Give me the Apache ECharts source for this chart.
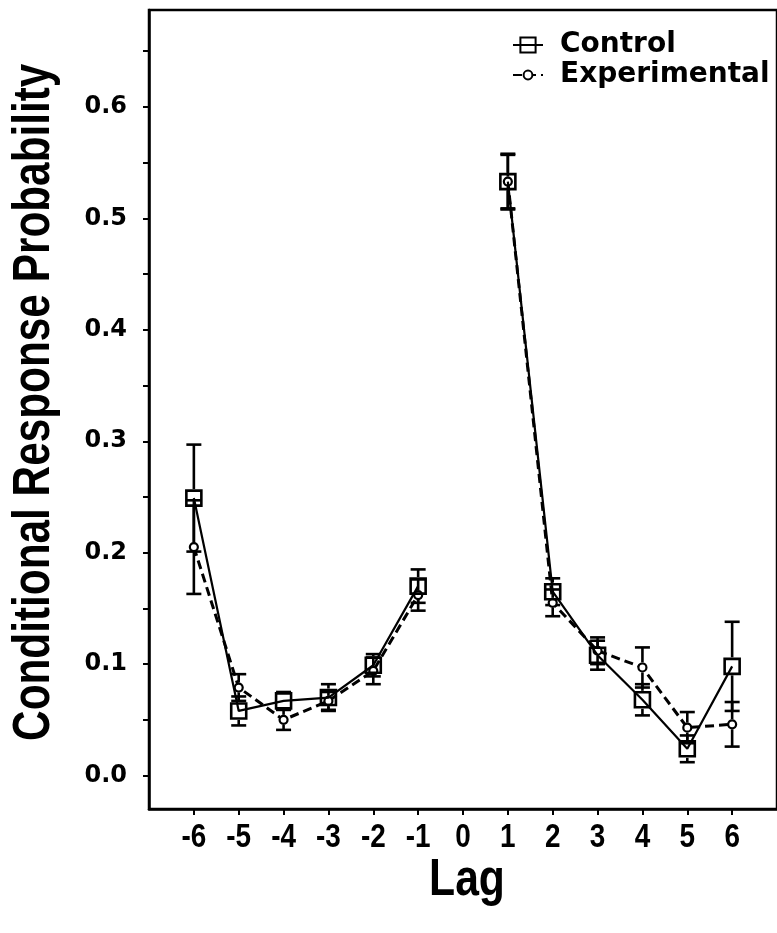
<!DOCTYPE html>
<html>
<head>
<meta charset="utf-8">
<script src="https://cdn.jsdelivr.net/npm/echarts@6/dist/echarts.min.js"></script>
<style>
html,body{margin:0;padding:0;background:#fff;}
#chart{width:777px;height:933px;}
</style>
</head>
<body>
<div id="chart"></div>
<script>
const lags = [-6, -5, -4, -3, -2, -1, 1, 2, 3, 4, 5, 6];
const xTickLabels = [-6, -5, -4, -3, -2, -1, 0, 1, 2, 3, 4, 5, 6];
const controlMean = [0.249, 0.058, 0.067, 0.070, 0.099, 0.170, 0.533, 0.165, 0.108, 0.068, 0.024, 0.098];
const controlErr  = [0.048, 0.013, 0.008, 0.012, 0.010, 0.015, 0.024, 0.012, 0.013, 0.014, 0.012, 0.040];
const expMean = [0.205, 0.079, 0.050, 0.067, 0.094, 0.162, 0.533, 0.155, 0.112, 0.097, 0.043, 0.046];
const expErr  = [0.042, 0.012, 0.009, 0.008, 0.012, 0.014, 0.025, 0.012, 0.012, 0.018, 0.014, 0.020];
const yTickLabels = [0, 0.1, 0.2, 0.3, 0.4, 0.5, 0.6];
const yTickMarks = [0, 0.05, 0.1, 0.15, 0.2, 0.25, 0.3, 0.35, 0.4, 0.45, 0.5, 0.55, 0.6, 0.65];
const xTitle = 'Lag';
const yTitle = 'Conditional Response Probability';

function lineData(means) {
  const out = [];
  lags.forEach((lag, i) => {
    if (i > 0 && lags[i - 1] < 0 && lag > 0) out.push([0, '-']);
    out.push([lag, means[i]]);
  });
  return out;
}
function errData(means, errs) {
  return lags.map((lag, i) => [lag, means[i] - errs[i], means[i] + errs[i], means[i]]);
}
function errRender(halfSize) {
  return function (params, api) {
    const x = api.value(0), lo = api.value(1), hi = api.value(2), v = api.value(3);
    const pHi = api.coord([x, hi]), pLo = api.coord([x, lo]), pV = api.coord([x, v]);
    const cap = 7.5;
    const style = { stroke: '#000', lineWidth: 2.6, fill: null };
    const ch = [];
    if (pV[1] - halfSize > pHi[1]) ch.push({ type: 'line', shape: { x1: pHi[0], y1: pHi[1], x2: pV[0], y2: pV[1] - halfSize }, style });
    if (pV[1] + halfSize < pLo[1]) ch.push({ type: 'line', shape: { x1: pLo[0], y1: pLo[1], x2: pV[0], y2: pV[1] + halfSize }, style });
    ch.push({ type: 'line', shape: { x1: pHi[0] - cap, y1: pHi[1], x2: pHi[0] + cap, y2: pHi[1] }, style });
    ch.push({ type: 'line', shape: { x1: pLo[0] - cap, y1: pLo[1], x2: pLo[0] + cap, y2: pLo[1] }, style });
    return { type: 'group', children: ch };
  };
}

const chart = echarts.init(document.getElementById('chart'), null, { renderer: 'canvas' });
const legendText = { fontFamily: 'DejaVu Sans', fontWeight: 'bold', fontSize: 28, color: '#000', padding: [0, 0, 0, 12] };
chart.setOption({
  animation: false,
  backgroundColor: '#fff',
  grid: { left: 149, top: 10, width: 633, height: 799, show: true, borderColor: '#000', borderWidth: 2.5, backgroundColor: 'transparent' },
  legend: [
    { data: ['Control'], left: 512, top: 31, padding: 0, itemWidth: 30, itemHeight: 19, textStyle: legendText, selectedMode: false },
    { data: ['Experimental'], left: 512, top: 61, padding: 0, itemWidth: 30, itemHeight: 11, textStyle: legendText, selectedMode: false }
  ],
  xAxis: {
    type: 'value', min: -7, max: 7,
    axisLine: { show: true, onZero: false, lineStyle: { color: '#000', width: 2.5 } },
    axisTick: { show: true, customValues: xTickLabels, length: 6, lineStyle: { color: '#000', width: 2 } },
    axisLabel: { show: false },
    splitLine: { show: false }
  },
  yAxis: {
    type: 'value', min: -0.03, max: 0.687,
    axisLine: { show: true, onZero: false, lineStyle: { color: '#000', width: 2.5 } },
    axisTick: { show: true, customValues: yTickMarks, length: 6, lineStyle: { color: '#000', width: 2 } },
    axisLabel: { customValues: yTickLabels, margin: 22, formatter: v => v.toFixed(1), fontFamily: 'DejaVu Sans', fontWeight: 'bold', fontSize: 24, color: '#000' },
    splitLine: { show: false }
  },
  series: [
    {
      name: 'Experimental SE', type: 'custom', renderItem: errRender(5), data: errData(expMean, expErr),
      encode: { x: 0, y: [1, 2, 3] }, z: 1, silent: true
    },
    {
      name: 'Control SE', type: 'custom', renderItem: errRender(9), data: errData(controlMean, controlErr),
      encode: { x: 0, y: [1, 2, 3] }, z: 1, silent: true
    },
    {
      name: 'Experimental', type: 'line', data: lineData(expMean), connectNulls: false,
      symbol: 'circle', symbolSize: 8, showAllSymbol: true,
      itemStyle: { color: '#fff', borderColor: '#000', borderWidth: 2.2 },
      lineStyle: { color: '#000', width: 3, type: [9, 5] }, z: 2, silent: true
    },
    {
      name: 'Control', type: 'line', data: lineData(controlMean), connectNulls: false,
      symbol: 'rect', symbolSize: 15, showAllSymbol: true,
      itemStyle: { color: 'rgba(255,255,255,0)', borderColor: '#000', borderWidth: 2.6 },
      lineStyle: { color: '#000', width: 2.2 }, z: 3, silent: true
    }
  ]
});

// Condensed bold text (narrow face emulated by horizontal scaling of Liberation Sans Bold)
const narrow = 0.82;
const texts = [];
xTickLabels.forEach(v => {
  const px = chart.convertToPixel({ xAxisIndex: 0 }, v);
  texts.push({
    type: 'text', x: px, y: 838, scaleX: narrow, silent: true,
    style: { text: String(v), fontFamily: 'Liberation Sans', fontWeight: 'bold', fontSize: 34, fill: '#000', align: 'center', verticalAlign: 'middle' }
  });
});
const midX = chart.convertToPixel({ xAxisIndex: 0 }, 0);
texts.push({
  type: 'text', x: midX + 4, y: 881, scaleX: narrow, silent: true,
  style: { text: xTitle, fontFamily: 'Liberation Sans', fontWeight: 'bold', fontSize: 52, fill: '#000', align: 'center', verticalAlign: 'middle' }
});
const midY = chart.convertToPixel({ yAxisIndex: 0 }, 0.335);
texts.push({
  type: 'text', x: 35, y: midY, rotation: Math.PI / 2, scaleX: 0.83, silent: true,
  style: { text: yTitle, fontFamily: 'Liberation Sans', fontWeight: 'bold', fontSize: 51, fill: '#000', align: 'center', verticalAlign: 'middle' }
});
chart.setOption({ graphic: texts });
</script>
</body>
</html>
